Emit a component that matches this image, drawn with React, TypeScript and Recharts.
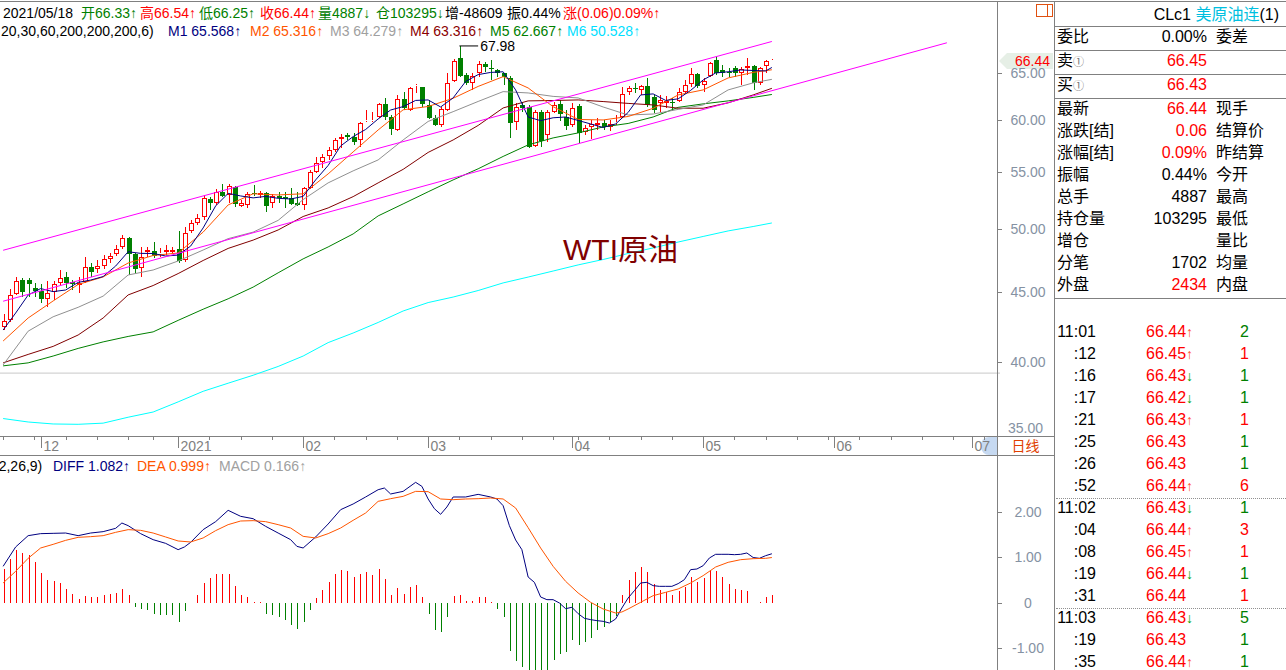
import {
  Bar,
  ComposedChart,
  Line,
  ReferenceDot,
  ReferenceLine,
  XAxis,
  YAxis,
} from "recharts";

const FONT = '"Liberation Sans", Arial, "Noto Sans CJK SC", sans-serif';
const RED = "#ff0000";
const GREEN = "#008000";
const LINE_GRAY = "#808080";
const AXIS_TEXT = "#8592a3";
const W = 1286;
const H = 670;

// trading days on the axis (after 05/18 the slots are empty)
const MONTH_DAYS: [string, number[]][] = [
  ["2020-11", [23, 24, 25, 26, 27, 30]],
  ["2020-12", [1, 2, 3, 4, 7, 8, 9, 10, 11, 14, 15, 16, 17, 18, 21, 22, 23, 24, 28, 29, 30, 31]],
  ["2021-01", [4, 5, 6, 7, 8, 11, 12, 13, 14, 15, 18, 19, 20, 21, 22, 25, 26, 27, 28, 29]],
  ["2021-02", [1, 2, 3, 4, 5, 8, 9, 10, 11, 12, 15, 16, 17, 18, 19, 22, 23, 24, 25, 26]],
  ["2021-03", [1, 2, 3, 4, 5, 8, 9, 10, 11, 12, 15, 16, 17, 18, 19, 22, 23, 24, 25, 26, 29, 30, 31]],
  ["2021-04", [1, 5, 6, 7, 8, 9, 12, 13, 14, 15, 16, 19, 20, 21, 22, 23, 26, 27, 28, 29, 30]],
  ["2021-05", [3, 4, 5, 6, 7, 10, 11, 12, 13, 14, 17, 18, 19, 20, 21, 24, 25, 26, 27, 28, 31]],
  ["2021-06", [1, 2, 3, 4, 7, 8, 9, 10, 11, 14, 15, 16, 17, 18, 21, 22, 23, 24, 25, 28, 29, 30]],
  ["2021-07", [1, 2, 6, 7, 8]],
];

const OPEN = [
  42.47, 42.95, 44.86, 45.92, 45.9, 45.29, 45.08, 44.46, 44.99, 45.67,
  46.13, 45.77, 45.54, 45.75, 46.91, 46.76, 47.04, 47.54, 47.94, 48.55,
  49.24, 47.96, 46.84, 48.15, 48.21, 47.96, 48.15, 48.15, 48.35, 47.49,
  49.88, 50.5, 51.01, 52.61, 52.23, 53.26, 52.96, 53.71, 52.02, 52.08,
  53.14, 52.96, 53.11, 52.23, 52.87, 52.81, 52.67, 52.28, 52.08, 53.56,
  55.08, 55.97, 56.5, 57.11, 58.13, 58.56, 58.39, 58.07, 59.95, 59.95,
  60.32, 61.65, 60.32, 59.05, 62.17, 61.06, 63.61, 63.43, 61.58, 60.22,
  59.55, 61.06, 64.14, 66.59, 64.75, 63.9, 64.95, 65.94, 65.48, 65.3,
  64.93, 64.39, 59.89, 61.58, 61.41, 57.5, 60.89, 58.56, 60.89, 61.68,
  60.38, 59.55, 61.48, 58.82, 59.35, 59.55, 59.72, 59.32, 59.72, 60.38,
  62.91, 63.33, 63.15, 63.57, 62.45, 61.75, 61.75, 61.92, 61.99, 62.97,
  63.75, 64.86, 63.64, 64.64, 66.4, 65.3, 65.12, 65.48, 65.01, 65.48,
  65.77, 63.9, 65.7, 66.33,
];
const HIGH = [
  43.38, 45.21, 46.18, 46.05, 46.1, 45.71, 45.59, 45.87, 45.87, 46.7,
  46.52, 45.92, 46.18, 47.7, 47.22, 47.49, 47.88, 48.07, 48.69, 49.52,
  49.35, 48.02, 48.5, 48.55, 48.94, 48.42, 48.69, 48.55, 49.85, 50.22,
  50.78, 51.29, 52.93, 52.81, 53.5, 53.95, 53.95, 53.8, 52.52, 53.2,
  53.86, 53.35, 53.26, 53.05, 53.26, 53.26, 53.56, 53.2, 53.71, 55.23,
  56.41, 56.73, 57.37, 58.23, 58.66, 58.79, 58.75, 59.89, 61.06, 60.89,
  61.75, 62.27, 60.55, 62.62, 62.97, 63.5, 63.82, 63.5, 62.1, 60.55,
  61.41, 64.93, 66.48, 67.98, 64.93, 64.93, 66.24, 66.13, 66.4, 65.39,
  65.01, 64.64, 61.75, 61.92, 61.58, 61.06, 61.06, 61.06, 61.92, 62.1,
  61.06, 61.79, 61.68, 59.55, 60.05, 60.22, 60.05, 60.0, 60.55, 63.5,
  63.57, 63.86, 63.68, 64.39, 62.62, 62.62, 62.51, 62.27, 63.36, 64.21,
  65.48, 65.01, 64.43, 66.22, 66.85, 65.85, 65.48, 65.72, 65.66, 66.59,
  65.85, 65.66, 66.4, 66.54,
];
const LOW = [
  42.23, 42.83, 44.78, 44.61, 44.61, 44.66, 44.17, 43.91, 44.41, 45.54,
  45.29, 45.16, 44.96, 45.67, 46.18, 46.44, 46.76, 47.22, 47.81, 48.41,
  46.31, 46.5, 46.18, 47.75, 47.62, 47.75, 47.88, 48.02, 47.22, 47.35,
  49.66, 50.36, 50.78, 51.64, 52.08, 52.81, 52.28, 51.93, 51.93, 51.85,
  52.87, 52.69, 51.49, 51.85, 52.23, 51.85, 52.08, 51.99, 51.64, 53.5,
  54.94, 55.45, 56.16, 56.95, 57.27, 58.07, 57.59, 57.43, 59.89, 59.89,
  60.22, 60.05, 58.56, 58.98, 61.06, 60.99, 62.8, 61.41, 60.14, 59.45,
  59.32, 60.99, 64.03, 64.54, 63.68, 63.15, 64.57, 65.12, 64.21, 64.57,
  63.68, 58.31, 59.05, 60.89, 57.27, 57.37, 57.4, 57.91, 60.75, 59.9,
  59.05, 59.35, 57.75, 58.56, 58.17, 59.05, 59.05, 58.9, 59.55, 60.22,
  62.62, 62.8, 62.62, 61.41, 60.72, 60.86, 61.27, 60.99, 61.85, 62.8,
  63.5, 63.36, 62.97, 64.57, 64.75, 64.54, 64.57, 64.57, 63.68, 64.75,
  63.15, 63.68, 65.01, 66.25,
];
const CLOSE = [
  42.9, 44.76, 45.82, 45.03, 45.59, 45.11, 44.46, 44.96, 45.59, 46.05,
  45.67, 45.62, 45.69, 46.91, 46.57, 47.01, 47.54, 47.81, 48.35, 49.24,
  47.94, 46.76, 47.75, 48.29, 47.81, 48.07, 48.29, 48.29, 47.43, 49.72,
  50.5, 50.92, 52.72, 52.23, 53.26, 52.9, 53.77, 52.14, 52.23, 53.05,
  53.05, 53.11, 52.02, 52.87, 52.67, 52.58, 52.14, 52.08, 53.56, 55.02,
  55.91, 56.41, 57.11, 58.07, 58.39, 58.39, 57.91, 59.72, 60.05, 60.05,
  61.65, 60.32, 59.12, 62.17, 61.23, 63.4, 63.72, 61.68, 60.22, 59.55,
  61.13, 63.93, 66.29, 64.61, 63.86, 64.64, 65.98, 65.57, 65.39, 65.01,
  64.57, 59.72, 61.41, 61.23, 57.37, 60.89, 58.0, 60.89, 61.58, 60.65,
  59.45, 61.23, 58.75, 59.22, 59.65, 59.79, 59.38, 59.65, 59.89, 62.69,
  63.33, 63.22, 63.57, 61.58, 61.06, 62.1, 61.99, 61.75, 62.97, 63.68,
  64.82, 63.61, 64.07, 66.11, 64.93, 65.01, 65.06, 65.01, 65.39, 65.77,
  63.9, 65.48, 66.3, 66.44,
];

// moving averages every few bars
const MA_IDX = [0, 4, 8, 12, 16, 20, 24, 28, 32, 36, 40, 44, 48, 52, 56, 60, 64, 68, 72, 76, 80, 84, 88, 92, 96, 100, 104, 108, 112, 116, 120, 123];
const M2 = [41.46, 43.09, 44.34, 45.58, 46.16, 47.25, 47.85, 48.05, 49.76, 52.08, 53.06, 52.96, 53.06, 54.86, 56.92, 59.05, 61.08, 61.42, 62.27, 63.52, 64.57, 63.36, 61.4, 60.1, 60.05, 60.4, 61.23, 62.62, 63.15, 64.43, 65.03, 65.32];
const M3 = [39.83, 42.15, 43.18, 43.87, 44.7, 46.31, 46.7, 47.41, 48.29, 49.22, 49.76, 50.75, 52.55, 54.04, 55.14, 56.16, 58.07, 59.9, 60.89, 61.94, 62.97, 62.83, 62.47, 62.31, 61.37, 60.55, 60.65, 61.12, 61.58, 63.15, 63.9, 64.28];
const M4 = [39.97, 40.54, 41.09, 41.88, 43.09, 44.79, 45.5, 46.42, 47.45, 48.42, 49.1, 49.94, 51.08, 51.82, 52.81, 54.04, 55.28, 56.87, 58.07, 59.5, 61.27, 62.0, 62.04, 62.1, 61.93, 61.74, 61.58, 61.24, 61.24, 61.8, 62.62, 63.32];
const M5 = [39.77, 39.97, 40.43, 40.95, 41.4, 41.78, 42.1, 42.92, 43.73, 44.5, 45.38, 46.48, 47.58, 48.54, 49.61, 51.13, 52.17, 53.24, 54.31, 55.33, 56.49, 57.59, 58.27, 58.76, 59.35, 59.7, 60.35, 61.33, 61.69, 62.0, 62.36, 62.67];
const M6 = [36.41, 36.2, 36.08, 36.06, 36.13, 36.49, 36.81, 37.44, 38.11, 38.63, 39.15, 39.73, 40.43, 41.35, 42.02, 42.77, 43.6, 44.22, 44.63, 45.12, 45.7, 46.15, 46.62, 47.1, 47.53, 48.01, 48.46, 48.94, 49.4, 49.86, 50.23, 50.53];
const M1_IDX = [0, 2, 4, 6, 8, 10, 12, 14, 16, 18, 20, 22, 24, 26, 28, 30, 32, 34, 36, 38, 40, 42, 44, 46, 48, 50, 52, 54, 56, 58, 60, 62, 64, 66, 68, 70, 72, 74, 76, 78, 80, 82, 84, 86, 88, 90, 92, 94, 96, 98, 100, 102, 104, 106, 108, 110, 112, 114, 116, 118, 120, 122, 123];
const M1 = [42.23, 43.45, 44.78, 45.27, 45.04, 45.16, 45.74, 45.92, 46.19, 47.01, 48.15, 48.02, 48.01, 47.81, 47.88, 48.61, 50.11, 51.99, 53.1, 52.87, 52.7, 52.83, 52.66, 52.6, 52.83, 54.31, 55.64, 57.49, 58.4, 59.1, 60.15, 61.06, 61.41, 62.05, 62.1, 61.37, 62.31, 64.05, 64.79, 65.03, 65.1, 63.15, 60.35, 59.98, 60.27, 60.35, 60.0, 59.65, 59.3, 59.65, 60.81, 62.62, 62.73, 62.05, 62.21, 63.1, 64.21, 64.97, 65.1, 65.3, 65.24, 65.19, 65.57];

// MACD(12,26,9)
const MACD = [
  0.755, 0.974, 1.172, 1.099, 1.048, 0.908, 0.659, 0.513, 0.491, 0.44,
  0.315, 0.205, 0.095, 0.161, 0.125, 0.125, 0.168, 0.19, 0.227, 0.315,
  0.168, -0.095, -0.125, -0.147, -0.234, -0.271, -0.271, -0.271, -0.41, -0.183,
  0, 0.168, 0.447, 0.542, 0.645, 0.63, 0.645, 0.381, 0.183, 0.125,
  0.03, 0.015, -0.234, -0.271, -0.308, -0.381, -0.491, -0.579, -0.425, -0.154,
  0.103, 0.293, 0.469, 0.645, 0.733, 0.711, 0.579, 0.637, 0.689, 0.623,
  0.74, 0.535, 0.183, 0.322, 0.205, 0.359, 0.396, 0.139, -0.234, -0.601,
  -0.645, -0.315, 0.147, 0.183, 0.051, 0.051, 0.139, 0.125, 0.015, -0.125,
  -0.315, -1.062, -1.282, -1.407, -1.9, -2.0, -2.1, -1.8, -1.245, -1.114,
  -1.084, -0.806, -0.916, -0.864, -0.769, -0.601, -0.535, -0.425, -0.293, 0.183,
  0.513, 0.689, 0.799, 0.689, 0.41, 0.293, 0.234, 0.183, 0.271, 0.359,
  0.579, 0.462, 0.557, 0.733, 0.696, 0.564, 0.425, 0.315, 0.293, 0.271,
  0, 0.015, 0.125, 0.166,
];
const DIFF_IDX = [0, 2, 4, 6, 8, 10, 12, 14, 16, 18, 19, 20, 22, 24, 26, 28, 29, 30, 32, 34, 36, 38, 40, 42, 44, 46, 47, 48, 50, 52, 54, 56, 58, 60, 61, 62, 64, 66, 67, 68, 69, 70, 71, 72, 74, 76, 78, 79, 80, 81, 82, 83, 84, 85, 86, 87, 88, 89, 90, 91, 92, 93, 94, 95, 96, 97, 98, 99, 100, 101, 102, 103, 104, 105, 106, 107, 108, 109, 110, 111, 112, 113, 114, 115, 116, 117, 118, 119, 120, 121, 122, 123];
const DIFF = [0.806, 1.231, 1.48, 1.524, 1.531, 1.538, 1.48, 1.538, 1.568, 1.641, 1.758, 1.7, 1.524, 1.392, 1.311, 1.172, 1.231, 1.333, 1.612, 1.788, 2.037, 1.905, 1.853, 1.685, 1.538, 1.392, 1.245, 1.209, 1.451, 1.736, 2.051, 2.176, 2.33, 2.49, 2.527, 2.396, 2.454, 2.652, 2.564, 2.286, 2.073, 1.949, 2.11, 2.33, 2.33, 2.388, 2.33, 2.286, 2.139, 1.7, 1.385, 1.172, 0.571, 0.454, 0.132, 0.073, 0.073, 0, -0.125, -0.095, -0.234, -0.337, -0.366, -0.388, -0.403, -0.44, -0.352, -0.11, 0.11, 0.271, 0.44, 0.454, 0.381, 0.366, 0.366, 0.366, 0.425, 0.513, 0.733, 0.747, 0.82, 0.989, 1.07, 1.07, 1.07, 1.062, 1.07, 1.099, 1.0, 0.982, 1.04, 1.082];
const DEA_IDX = [0, 2, 4, 6, 8, 10, 12, 14, 16, 18, 20, 22, 24, 26, 28, 30, 32, 34, 36, 38, 40, 42, 44, 46, 48, 50, 52, 54, 56, 58, 60, 62, 64, 66, 68, 70, 72, 74, 76, 78, 80, 82, 84, 86, 88, 90, 92, 94, 96, 98, 99, 100, 102, 104, 106, 108, 110, 112, 114, 116, 118, 120, 122, 123];
const DEA = [0.44, 0.696, 0.982, 1.209, 1.289, 1.377, 1.443, 1.458, 1.48, 1.553, 1.612, 1.597, 1.538, 1.451, 1.363, 1.341, 1.429, 1.59, 1.722, 1.802, 1.81, 1.788, 1.722, 1.648, 1.465, 1.429, 1.524, 1.648, 1.817, 1.978, 2.234, 2.293, 2.344, 2.454, 2.447, 2.286, 2.271, 2.286, 2.293, 2.308, 2.286, 2.088, 1.656, 1.209, 0.806, 0.476, 0.22, 0.015, -0.132, -0.22, -0.198, -0.132, 0.015, 0.161, 0.234, 0.308, 0.44, 0.601, 0.791, 0.894, 0.952, 0.974, 0.982, 0.999];

// channel lines: [bar index, price]
const TREND_UPPER = [[0, 48.27], [123, 68.49]];
const TREND_LOWER = [[0, 44.32], [151, 68.34]];
const GUIDE_PRICE = 39.29;
const PEAK = { from: 73, to: 76, price: 67.98 };
const LAST_PRICE = 66.44;
const PRICE_TICKS = [40, 45, 50, 55, 60, 65];
const MACD_TICKS = [-1, 0, 1, 2];

const QUOTE_LABELS = ["委比", "卖", "买", "最新", "涨跌[结]", "涨幅[结]", "振幅", "总手", "持仓量", "增仓", "分笔", "外盘"];
const QUOTE_VALUES = ["0.00%", "66.45", "66.43", "66.44", "0.06", "0.09%", "0.44%", "4887", "103295", "", "1702", "2434"];
const QUOTE_RED = [0, 1, 1, 1, 1, 1, 0, 0, 0, 0, 0, 1];
const QUOTE_SIDE = ["委差", "", "", "现手", "结算价", "昨结算", "今开", "最高", "最低", "量比", "均量", "内盘"];
const QUOTE_Y = [37, 61, 85, 109, 131, 153, 175, 197, 219, 241, 263, 285];

const TICK_TIMES = ["11:01", ":12", ":16", ":17", ":21", ":25", ":26", ":52", "11:02", ":04", ":08", ":19", ":31", "11:03", ":19", ":35"];
const TICK_PRICES = ["66.44", "66.45", "66.43", "66.42", "66.43", "66.43", "66.43", "66.44", "66.43", "66.44", "66.45", "66.44", "66.44", "66.43", "66.43", "66.44"];
const TICK_DIRS = ["u", "u", "d", "d", "u", "", "", "u", "d", "u", "u", "d", "", "d", "", "u"];
const TICK_VOLS = [2, 1, 1, 1, 1, 1, 1, 6, 1, 3, 1, 1, 1, 5, 1, 1];
const TICK_VOL_RED = [0, 1, 0, 0, 1, 0, 0, 1, 0, 1, 1, 0, 1, 0, 0, 0];

const DATES: string[] = MONTH_DAYS.flatMap(([m, days]) =>
  days.map((d) => `${m}-${String(d).padStart(2, "0")}`)
);

const ROWS: any[] = DATES.map((d, i) => {
  const row: any = { d };
  if (i < CLOSE.length) {
    row.o = OPEN[i];
    row.h = HIGH[i];
    row.l = LOW[i];
    row.c = CLOSE[i];
    row.range = [LOW[i], HIGH[i]];
    row.macd = MACD[i];
  }
  return row;
});
MA_IDX.forEach((i, k) => {
  ROWS[i].m2 = M2[k];
  ROWS[i].m3 = M3[k];
  ROWS[i].m4 = M4[k];
  ROWS[i].m5 = M5[k];
  ROWS[i].m6 = M6[k];
});
M1_IDX.forEach((i, k) => (ROWS[i].m1 = M1[k]));
DIFF_IDX.forEach((i, k) => (ROWS[i].diff = DIFF[k]));
DEA_IDX.forEach((i, k) => (ROWS[i].dea = DEA[k]));

const dow = (d: string) => new Date(d + "T00:00:00Z").getUTCDay();
const TICK_MARK = new Map<string, { week: boolean; month: string | null }>();
DATES.forEach((d, i) => {
  const prev = DATES[i - 1];
  const week = !prev || dow(d) <= dow(prev);
  const newMonth = !!prev && prev.slice(0, 7) !== d.slice(0, 7);
  const mm = d.slice(5, 7);
  TICK_MARK.set(d, { week, month: newMonth ? (mm === "01" ? d.slice(0, 4) : mm) : null });
});

function Candle(props: any) {
  const { x, y, width, height, payload } = props;
  if (!payload || payload.o == null || !isFinite(y)) return null;
  const { o, h, l, c } = payload;
  const top = Math.min(y, y + height);
  const span = Math.abs(height);
  const k = h > l ? span / Math.log(h / l) : 0;
  const py = (v: number) => Math.round(top + Math.log(h / v) * k);
  const cx = Math.round(x + width / 2);
  const wx = cx + 0.5;
  const yo = py(o);
  const yc = py(c);
  const bTop = Math.min(yo, yc);
  const bBot = Math.max(yo, yc);
  const yh = Math.round(top);
  const yl = Math.round(top + span);
  if (c >= o) {
    return (
      <g>
        <line x1={wx} x2={wx} y1={yh} y2={bTop} stroke={RED} />
        <line x1={wx} x2={wx} y1={bBot} y2={yl} stroke={RED} />
        <rect x={cx - 1.5} y={bTop + 0.5} width={4} height={Math.max(bBot - bTop - 1, 0)} fill="#fff" stroke={RED} />
      </g>
    );
  }
  return (
    <g>
      <line x1={wx} x2={wx} y1={yh} y2={yl} stroke={GREEN} />
      <rect x={cx - 2} y={bTop} width={5} height={Math.max(bBot - bTop, 1)} fill={GREEN} />
    </g>
  );
}

function MacdBar(props: any) {
  const { x, y, width, height, payload } = props;
  if (!payload || !payload.macd || !isFinite(y)) return null;
  const cx = Math.round(x + width / 2);
  const y1 = Math.round(Math.min(y, y + height));
  const y2 = Math.round(Math.max(y, y + height));
  return <rect x={cx} y={y1} width={1} height={Math.max(y2 - y1, 1)} fill={payload.macd > 0 ? RED : GREEN} />;
}

function DateTick(props: any) {
  const { x, payload } = props;
  const info = TICK_MARK.get(payload.value);
  if (!info || (!info.week && !info.month)) return <g />;
  const lx = Math.round(x) + 0.5;
  return (
    <g>
      <line x1={lx} x2={lx} y1={436} y2={info.month ? 448 : 440} stroke={LINE_GRAY} />
      {info.month && (
        <text x={lx + 2} y={451} fill={LINE_GRAY} fontSize={14} fontFamily={FONT}>
          {info.month}
        </text>
      )}
    </g>
  );
}

function ValueTick(props: any) {
  const { y, payload } = props;
  const v = payload.value;
  const yy = Math.round(y) + 0.5;
  const label = props.macd ? (v === 0 ? "0" : v.toFixed(2)) : v.toFixed(2);
  return (
    <g>
      <line x1={998} x2={1002} y1={yy} y2={yy} stroke={LINE_GRAY} />
      <text x={1028} y={y + 5} textAnchor="middle" fill={AXIS_TEXT} fontSize={14} fontFamily={FONT}>
        {label}
      </text>
    </g>
  );
}

function PriceTag(props: any) {
  const vb = props.viewBox;
  if (!vb) return null;
  const x0 = vb.x + vb.width - 1;
  const yc = Math.round(vb.y) + 1;
  return (
    <g>
      <polygon
        points={`${x0},${yc} ${x0 + 8},${yc - 8} ${x0 + 54},${yc - 8} ${x0 + 54},${yc + 8} ${x0 + 8},${yc + 8}`}
        fill="#e6efe6"
      />
      <text x={x0 + 51} y={yc + 5} textAnchor="end" fill={RED} fontSize={14} fontFamily={FONT}>
        {LAST_PRICE.toFixed(2)}
      </text>
    </g>
  );
}

function Txt({ left, right, top, color = "#000", size = 14, lh = 16, children }: any) {
  return (
    <div
      style={{
        position: "absolute",
        left,
        right: right !== undefined ? W - right : undefined,
        top,
        color,
        fontSize: size,
        lineHeight: `${lh}px`,
        whiteSpace: "nowrap",
        textAlign: right !== undefined ? "right" : "left",
      }}
    >
      {children}
    </div>
  );
}

function HLine({ x1, x2, y, color = LINE_GRAY, dotted = false }: any) {
  return (
    <div
      style={{
        position: "absolute",
        left: x1,
        top: y,
        width: x2 - x1,
        height: 0,
        borderTop: `1px ${dotted ? "dotted" : "solid"} ${color}`,
      }}
    />
  );
}

function VLine({ x, y1, y2 }: any) {
  return <div style={{ position: "absolute", left: x, top: y1, width: 0, height: y2 - y1, borderLeft: `1px solid ${LINE_GRAY}` }} />;
}

const MA_LINES = [
  { key: "m6", color: "#00ffff" },
  { key: "m5", color: GREEN },
  { key: "m4", color: "#800000" },
  { key: "m3", color: "#909090" },
  { key: "m2", color: "#ff5500" },
  { key: "m1", color: "#000080" },
];

export default function App() {
  return (
    <div
      style={{
        position: "absolute",
        left: 0,
        top: 0,
        width: W,
        height: H,
        background: "#fff",
        overflow: "hidden",
        fontFamily: FONT,
      }}
    >
      {/* scroll thumb sits behind the axis labels */}
      <div style={{ position: "absolute", left: 981, top: 437, width: 16, height: 18, background: "#c6d9f1", borderRadius: "8px 0 0 8px" }} />

      <div style={{ position: "absolute", left: 0, top: 0 }}>
        <ComposedChart width={1054} height={456} data={ROWS} margin={{ top: 20, right: 0, bottom: 0, left: 0 }}>
          <XAxis dataKey="d" interval={0} height={20} axisLine={false} tickLine={false} tick={<DateTick />} />
          <YAxis
            orientation="right"
            width={54}
            scale="log"
            domain={[35.36, 71]}
            allowDataOverflow
            ticks={PRICE_TICKS}
            axisLine={false}
            tickLine={false}
            tick={<ValueTick />}
          />
          <ReferenceLine y={GUIDE_PRICE} stroke="#c8c8c8" />
          <Bar dataKey="range" barSize={5} shape={<Candle />} isAnimationActive={false} />
          {MA_LINES.map((m) => (
            <Line
              key={m.key}
              dataKey={m.key}
              type="linear"
              stroke={m.color}
              strokeWidth={1}
              dot={false}
              activeDot={false}
              connectNulls
              isAnimationActive={false}
            />
          ))}
          {[TREND_UPPER, TREND_LOWER].map((t, n) => (
            <ReferenceLine
              key={n}
              segment={[
                { x: DATES[t[0][0]], y: t[0][1] },
                { x: DATES[t[1][0]], y: t[1][1] },
              ]}
              stroke="#ff00ff"
              strokeWidth={1}
            />
          ))}
          <ReferenceLine
            segment={[
              { x: DATES[PEAK.from], y: PEAK.price },
              { x: DATES[PEAK.to], y: PEAK.price },
            ]}
            stroke="#000"
          />
          <ReferenceDot
            x={DATES[PEAK.to]}
            y={PEAK.price}
            r={0}
            ifOverflow="visible"
            shape={(p: any) => (
              <text x={p.cx + 2} y={p.cy + 5} fontSize={14} fill="#000" fontFamily={FONT}>
                {PEAK.price.toFixed(2)}
              </text>
            )}
          />
          <ReferenceLine y={LAST_PRICE} stroke="none" label={<PriceTag />} />
        </ComposedChart>
      </div>

      <div style={{ position: "absolute", left: 0, top: 455 }}>
        <ComposedChart width={1054} height={215} data={ROWS} margin={{ top: 2, right: 0, bottom: 0, left: 0 }}>
          <XAxis dataKey="d" hide />
          <YAxis
            orientation="right"
            width={54}
            domain={[-1.473, 3.209]}
            allowDataOverflow
            ticks={MACD_TICKS}
            axisLine={false}
            tickLine={false}
            tick={<ValueTick macd />}
          />
          <Bar dataKey="macd" barSize={1} shape={<MacdBar />} isAnimationActive={false} />
          <Line dataKey="diff" type="linear" stroke="#000080" dot={false} activeDot={false} connectNulls isAnimationActive={false} />
          <Line dataKey="dea" type="linear" stroke="#ff5500" dot={false} activeDot={false} connectNulls isAnimationActive={false} />
        </ComposedChart>
      </div>

      {/* frame */}
      <HLine x1={0} x2={W} y={1} />
      <VLine x={997} y1={1} y2={H} />
      <VLine x={1054} y1={1} y2={H} />
      <HLine x1={0} x2={1054} y={436} />
      <HLine x1={0} x2={1054} y={455} />
      <Txt left={997} top={438} color="#e04000" size={14}>
        <div style={{ width: 57, textAlign: "center" }}>日线</div>
      </Txt>
      <Txt left={1008} top={420} color={AXIS_TEXT}>
        35.00
      </Txt>
      <div style={{ position: "absolute", left: 1036, top: 4, width: 15, height: 11, border: "1px solid #e05010" }}>
        <div style={{ position: "absolute", left: 10, top: 0, width: 0, height: 11, borderLeft: "1px solid #e05010" }} />
      </div>

      {/* price header */}
      <Txt left={3} top={5}>2021/05/18</Txt>
      <Txt left={81} top={5} color={GREEN}>开66.33↑</Txt>
      <Txt left={140} top={5} color={RED}>高66.54↑</Txt>
      <Txt left={199} top={5} color={GREEN}>低66.25↑</Txt>
      <Txt left={260} top={5} color={RED}>收66.44↑</Txt>
      <Txt left={318} top={5} color={GREEN}>量4887↓</Txt>
      <Txt left={376} top={5} color={GREEN}>仓103295↓</Txt>
      <Txt left={445} top={5}>增-48609</Txt>
      <Txt left={507} top={5}>振0.44%</Txt>
      <Txt left={563} top={5} color={RED}>涨(0.06)0.09%↑</Txt>

      <Txt left={1} top={23}>20,30,60,200,200,200,6)</Txt>
      <Txt left={168} top={23} color="#000080">M1 65.568↑</Txt>
      <Txt left={250} top={23} color="#ff5500">M2 65.316↑</Txt>
      <Txt left={330} top={23} color="#a0a0a0">M3 64.279↑</Txt>
      <Txt left={410} top={23} color="#8b0000">M4 63.316↑</Txt>
      <Txt left={490} top={23} color={GREEN}>M5 62.667↑</Txt>
      <Txt left={567} top={23} color="#00e0ff">M6 50.528↑</Txt>

      <Txt left={563} top={233} color="#800000" size={30} lh={34}>WTI原油</Txt>

      <Txt left={-55} top={458}>MACD(12,26,9)</Txt>
      <Txt left={53} top={458} color="#000080">DIFF 1.082↑</Txt>
      <Txt left={137} top={458} color="#ff5500">DEA 0.999↑</Txt>
      <Txt left={219} top={458} color="#a0a0a0">MACD 0.166↑</Txt>

      {/* quote panel */}
      <Txt right={1279} top={5} size={16} lh={20}>
        CLc1 <span style={{ color: "#00bfe0" }}>美原油连</span>(1)
      </Txt>
      <HLine x1={1054} x2={W} y={26} />
      <HLine x1={1054} x2={W} y={50} />
      <HLine x1={1054} x2={W} y={74} />
      <HLine x1={1054} x2={W} y={98} />
      <HLine x1={1054} x2={W} y={298} />
      {QUOTE_LABELS.map((lab, i) => (
        <div key={lab}>
          <Txt left={1057} top={QUOTE_Y[i] - 10} size={16} lh={20}>
            {lab}
            {(i === 1 || i === 2) && <span style={{ color: "#707070", fontSize: 11 }}>①</span>}
          </Txt>
          <Txt right={1207} top={QUOTE_Y[i] - 10} size={16} lh={20} color={QUOTE_RED[i] ? RED : "#000"}>
            {QUOTE_VALUES[i]}
          </Txt>
          <Txt left={1216} top={QUOTE_Y[i] - 10} size={16} lh={20}>
            {QUOTE_SIDE[i]}
          </Txt>
        </div>
      ))}
      {TICK_TIMES.map((t, i) => {
        const top = 322 + i * 22;
        return (
          <div key={i}>
            <Txt right={1096} top={top} size={16} lh={20}>{t}</Txt>
            <Txt left={1146} top={top} size={16} lh={20} color={RED}>
              {TICK_PRICES[i]}
              {TICK_DIRS[i] && (
                <span style={{ color: TICK_DIRS[i] === "u" ? "#ff5030" : "#00a000", fontSize: 14 }}>
                  {TICK_DIRS[i] === "u" ? "↑" : "↓"}
                </span>
              )}
            </Txt>
            <Txt right={1249} top={top} size={16} lh={20} color={TICK_VOL_RED[i] ? RED : GREEN}>
              {TICK_VOLS[i]}
            </Txt>
          </div>
        );
      })}
      <HLine x1={1056} x2={W} y={498} color="#909090" dotted />
      <HLine x1={1056} x2={W} y={608} color="#909090" dotted />
    </div>
  );
}
